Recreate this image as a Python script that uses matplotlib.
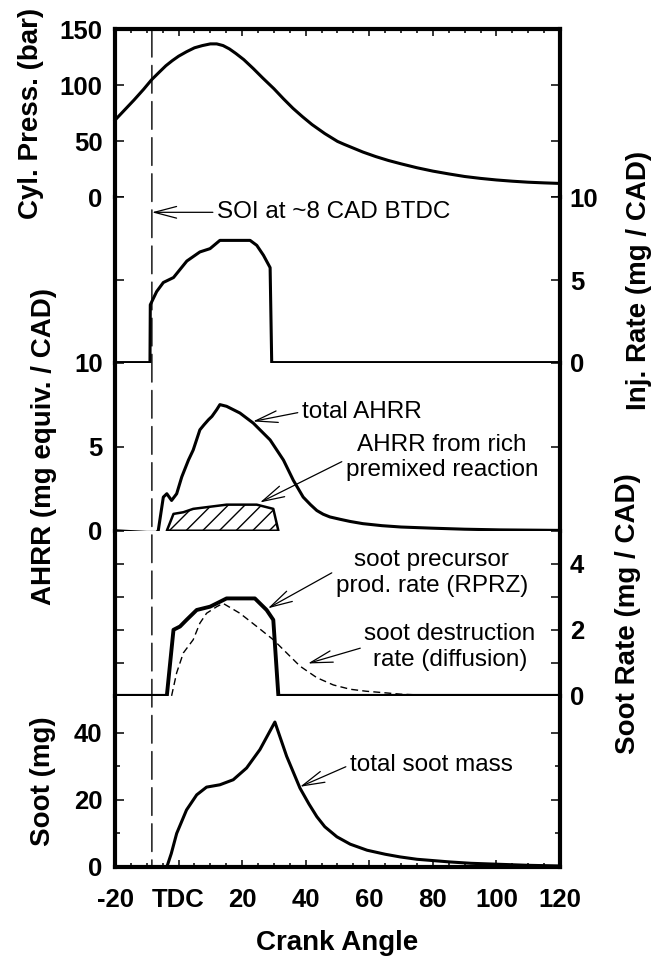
import matplotlib
matplotlib.use("Agg")
import matplotlib.pyplot as plt
from matplotlib.patches import ConnectionPatch
from matplotlib.ticker import FixedLocator, MultipleLocator

plt.rcParams['font.family'] = ['Liberation Sans', 'DejaVu Sans']

# crank angle axis
x_ticks = [-20, 0, 20, 40, 60, 80, 100, 120]
x_ticklabels = ['-20', 'TDC', '20', '40', '60', '80', '100', '120']
soi_cad = -8.4

# cylinder pressure (bar)
cad_press = [-20, -17, -14, -11, -8.5, -6, -4, -2, 0, 2.5, 5, 7.5, 10, 12, 14, 16, 18,
             20.5, 23.5, 26.5, 30, 33, 36, 39, 42, 44, 46, 48, 50, 52, 55, 58, 62, 66,
             70, 75, 80, 85, 90, 95, 100, 105, 110, 115, 120]
press = [69, 78, 87, 96.5, 105, 112, 117.5, 122, 126, 130, 133.5, 135.5, 137, 137, 135.5,
         132.5, 128.5, 123, 115, 106.5, 97, 88, 79.5, 72, 65, 61, 57, 53.5, 50, 47.5, 44,
         40.5, 36.5, 33, 30, 26.5, 23.5, 21, 18.7, 17, 15.6, 14.5, 13.6, 13, 12.5]

# injection rate (mg / CAD)
cad_inj = [-20, -9.0, -8.9, -6.9, -4.8, -1.6, 2.6, 6.7, 9.9, 13, 22.5, 24.6, 26.7, 28.8, 29.3, 120]
inj = [0, 0, 3.5, 4.3, 4.85, 5.15, 6.15, 6.7, 6.9, 7.4, 7.4, 7.1, 6.5, 5.75, 0, 0]

# apparent heat release rate (mg equiv. / CAD)
cad_ahrr = [-20, -15, -10, -7, -6.4, -4.8, -3.7, -2.2, -0.6, 1.0, 3.1, 4.6, 6.7, 8.0, 9.4,
            10.5, 12, 13, 15.1, 19.3, 23.5, 28.8, 33, 36.1, 39.2, 41.5, 43.5, 45.5, 47.6,
            50.8, 54, 58, 64, 70, 80, 90, 101, 120]
ahrr = [0, -0.05, -0.1, -0.1, 0, 2.0, 2.2, 1.8, 2.2, 3.2, 4.2, 4.8, 6.0, 6.3, 6.6, 6.8,
        7.2, 7.5, 7.4, 7.0, 6.4, 5.4, 4.2, 3.0, 2.0, 1.55, 1.2, 0.98, 0.82, 0.68, 0.55,
        0.42, 0.3, 0.22, 0.15, 0.09, 0.05, 0.02]

# AHRR from rich premixed reaction
cad_rich = [-3.7, -1.6, 1.5, 4.6, 8.8, 15.1, 24.6, 29.8, 31.4]
rich = [0, 1.0, 1.1, 1.3, 1.4, 1.55, 1.55, 1.3, 0]

# soot precursor production rate, RPRZ (mg / CAD)
cad_rprz = [-20, -3.7, -1.6, 0.45, 2.5, 5.7, 9.9, 12, 15.1, 24.0, 27.7, 29.8, 31.4, 120]
rprz = [0, 0, 2.0, 2.1, 2.3, 2.6, 2.7, 2.8, 2.95, 2.95, 2.6, 2.3, 0, 0]

# soot destruction rate, diffusion flame (mg / CAD)
cad_dest = [-2.2, -0.6, 1.5, 4.6, 6.7, 8.8, 12, 14, 19.3, 24.6, 29.8, 34, 38.2, 43.5,
            48.7, 54, 59, 64, 70, 75, 85]
dest = [0, 0.7, 1.3, 1.7, 2.2, 2.5, 2.7, 2.8, 2.5, 2.1, 1.7, 1.3, 0.9, 0.55, 0.33, 0.2,
        0.14, 0.1, 0.05, 0.03, 0]

# total soot mass (mg)
cad_soot = [-20, -3.7, -2.3, -0.6, 2.5, 5.7, 8.8, 13, 17.2, 21.4, 25.6, 30.3, 34, 38.2,
            41, 43.5, 46, 49.8, 54, 59.3, 65, 69.7, 75, 85.4, 92, 101, 110, 120]
soot = [0, 0, 4, 10, 17, 21.5, 23.8, 24.5, 26, 29.5, 35, 43.2, 33, 23.5, 18.8, 15, 12,
        9.0, 6.8, 5, 3.8, 3, 2.3, 1.5, 1.1, 0.8, 0.5, 0.3]

LAB = 20
TICK = 18.5
NOTE = 17.5
SPINE = 3.0

fig = plt.figure(figsize=(6.66, 9.58), dpi=100)
gs = fig.add_gridspec(5, 1, height_ratios=[168, 165, 168, 165, 171], hspace=0,
                      left=0.1727, right=0.8408, top=0.9694, bottom=0.0950)
ax_p = fig.add_subplot(gs[0])
ax_i = fig.add_subplot(gs[1], sharex=ax_p)
ax_a = fig.add_subplot(gs[2], sharex=ax_p)
ax_r = fig.add_subplot(gs[3], sharex=ax_p)
ax_s = fig.add_subplot(gs[4], sharex=ax_p)
panels = [ax_p, ax_i, ax_a, ax_r, ax_s]


def style_panel(ax, label_side, top=False, bottom=False):
    for side in ('left', 'right'):
        ax.spines[side].set_linewidth(SPINE)
    ax.spines['top'].set_visible(top)
    ax.spines['bottom'].set_visible(bottom)
    ax.spines['top'].set_linewidth(SPINE)
    ax.spines['bottom'].set_linewidth(SPINE)
    ax.tick_params(axis='y', which='both', direction='in', left=True, right=True,
                   width=1.1, labelsize=TICK,
                   labelleft=(label_side == 'left'), labelright=(label_side == 'right'))
    ax.tick_params(axis='y', which='major', length=6.5)
    ax.tick_params(axis='y', which='minor', length=3.5)
    ax.tick_params(axis='y', which='major', pad=9 if label_side == 'left' else 7)
    ax.tick_params(axis='x', which='both', direction='in', top=top, bottom=bottom,
                   labeltop=False, labelbottom=bottom, width=1.1)
    ax.tick_params(axis='x', which='major', length=5, labelsize=TICK, pad=15)
    ax.tick_params(axis='x', which='minor', length=3)
    if label_side == 'right':
        ax.yaxis.set_label_position('right')


style_panel(ax_p, 'left', top=True)
style_panel(ax_i, 'right')
style_panel(ax_a, 'left')
style_panel(ax_r, 'right')
style_panel(ax_s, 'left', bottom=True)

ax_s.set_xlim(-20, 120)
ax_s.xaxis.set_major_locator(FixedLocator(x_ticks))
ax_s.set_xticklabels(x_ticklabels, fontweight='bold')
ax_s.xaxis.set_minor_locator(MultipleLocator(5))

# cylinder pressure
ax_p.plot(cad_press, press, color='black', lw=2.2, clip_on=False)
ax_p.set_ylim(0, 150)
ax_p.set_yticks([0, 50, 100, 150])
ax_p.set_ylabel('Cyl. Press. (bar)', fontsize=LAB, fontweight='bold', va='center')
ax_p.yaxis.set_label_coords(-0.189, 0.5)

# injection rate
ax_i.plot(cad_inj, inj, color='black', lw=2.2, clip_on=False)
ax_i.set_ylim(0, 10)
ax_i.set_yticks([0, 5, 10])
ax_i.set_ylabel('Inj. Rate (mg / CAD)', fontsize=LAB, fontweight='bold', va='center')
ax_i.yaxis.set_label_coords(1.178, 0.5)

# heat release, total and rich premixed part
ax_a.fill_between(cad_rich, rich, 0, facecolor='white', edgecolor='black', hatch='//',
                  lw=1.8, zorder=2)
ax_a.plot(cad_ahrr, ahrr, color='black', lw=2.2, clip_on=False, zorder=3)
ax_a.set_ylim(0, 10)
ax_a.set_yticks([0, 5, 10])
ax_a.set_ylabel('AHRR (mg equiv. / CAD)', fontsize=LAB, fontweight='bold', va='center')
ax_a.yaxis.set_label_coords(-0.16, 0.5)

# soot formation / destruction rates
ax_r.plot(cad_dest, dest, color='black', lw=1.0, dashes=(5, 3), clip_on=False)
ax_r.plot(cad_rprz, rprz, color='black', lw=2.8, clip_on=False)
ax_r.set_ylim(0, 5)
ax_r.set_yticks([0, 1, 2, 3, 4, 5])
ax_r.set_yticklabels(['0', '', '2', '', '4', ''])
ax_r.set_ylabel('Soot Rate (mg / CAD)', fontsize=LAB, fontweight='bold', va='center')
ax_r.yaxis.set_label_coords(1.153, 0.5)

# soot mass
ax_s.plot(cad_soot, soot, color='black', lw=2.2, clip_on=False)
ax_s.set_ylim(0, 51)
ax_s.set_yticks([0, 20, 40])
ax_s.yaxis.set_minor_locator(FixedLocator([10, 30]))
ax_s.set_ylabel('Soot (mg)', fontsize=LAB, fontweight='bold', va='center')
ax_s.yaxis.set_label_coords(-0.162, 0.5)
ax_s.set_xlabel('Crank Angle', fontsize=LAB, fontweight='bold', labelpad=13)

for ax in panels:
    for t in ax.get_yticklabels() + ax.get_xticklabels():
        t.set_fontweight('bold')

# start of injection marker through all panels
soi = ConnectionPatch(xyA=(soi_cad, 150), coordsA=ax_p.transData,
                      xyB=(soi_cad, 0), coordsB=ax_s.transData,
                      color='black', lw=1.0, linestyle=(0, (20, 6)), zorder=1)
fig.add_artist(soi)


def note(ax, text, xy, xytext, relpos, ha='left'):
    ax.annotate(text, xy=xy, xytext=xytext, textcoords='data', ha=ha, va='center',
                multialignment='center', fontsize=NOTE,
                arrowprops=dict(arrowstyle='->,head_length=1.6,head_width=0.42',
                                mutation_scale=10, lw=0.9, color='black',
                                shrinkA=1, shrinkB=0, relpos=relpos),
                annotation_clip=False, zorder=5)


note(ax_i, 'SOI at ~8 CAD BTDC', (soi_cad, 9.1), (12.1, 9.1), (0, 0.5))
note(ax_a, 'total AHRR', (23.4, 6.5), (38.8, 7.07), (0, 0.5))
note(ax_a, 'AHRR from rich\npremixed reaction', (25.6, 1.68), (82.9, 4.34), (0.02, 0.5),
     ha='center')
note(ax_r, 'soot precursor\nprod. rate (RPRZ)', (28.1, 2.65), (79.7, 3.72), (0.0, 0.55),
     ha='center')
note(ax_r, 'soot destruction\nrate (diffusion)', (40.7, 0.98), (85.4, 1.48), (0.0, 0.5),
     ha='center')
note(ax_s, 'total soot mass', (38.2, 23.9), (53.9, 30.4), (0, 0.5))

fig.savefig('out.png', dpi=100)
